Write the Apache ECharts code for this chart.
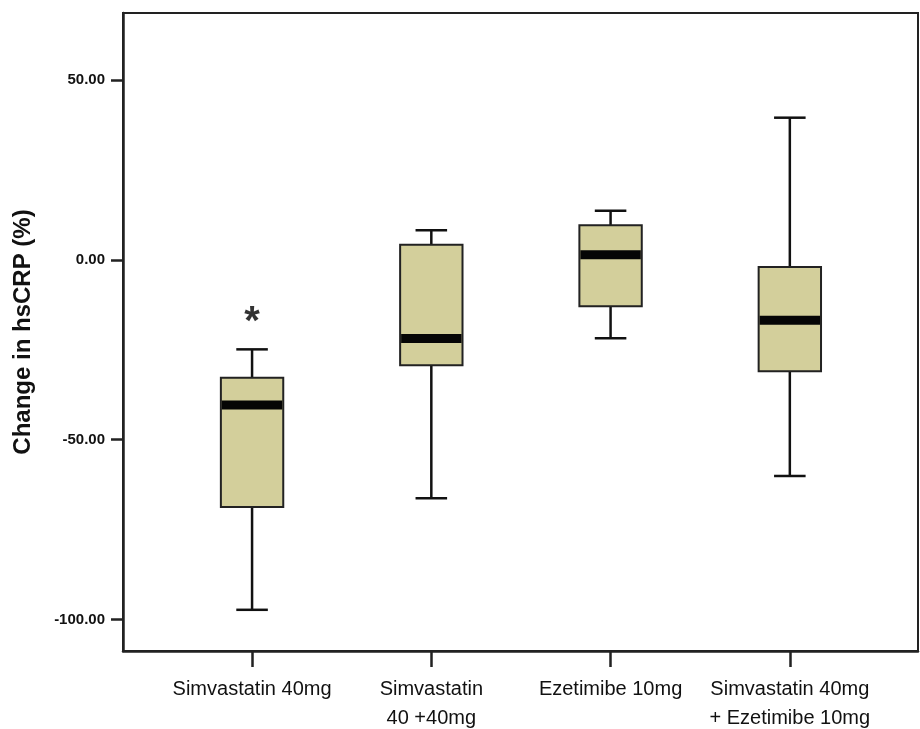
<!DOCTYPE html>
<html>
<head>
<meta charset="utf-8">
<script src="https://cdn.jsdelivr.net/npm/echarts@6/dist/echarts.min.js"></script>
<style>
  html, body { margin: 0; padding: 0; background: #fff; }
  #chart { width: 920px; height: 729px; }
</style>
</head>
<body>
<div id="chart"></div>
<script>
// groups along the x axis
const groups = ['Simvastatin 40mg', 'Simvastatin\n40 +40mg', 'Ezetimibe 10mg', 'Simvastatin 40mg\n+ Ezetimibe 10mg'];
const groupPos = [1, 2, 3, 4];

// box stats: [min, q1, median, q3, max]
const mins    = [-97.3, -66.3, -21.8, -60.1];
const q1s     = [-68.7, -29.3, -12.9, -31.0];
const medians = [-40.4, -21.9, 1.4, -16.8];
const q3s     = [-32.8, 4.2, 9.6, -2.0];
const maxs    = [-24.9, 8.2, 13.6, 39.5];

// significance marker (group position, value)
const starMarks = [[1, -15.4]];

const yTicks = [-100, -50, 0, 50];

const boxData = groupPos.map((x, i) => [x, mins[i], q1s[i], medians[i], q3s[i], maxs[i]]);

const chart = echarts.init(document.getElementById('chart'));

function renderBox(params, api) {
    const x = api.value(0);
    const unit = api.size([1, 0])[0];
    const halfBox = unit * 0.174;
    const halfCap = unit * 0.088;

    const pMin = api.coord([x, api.value(1)]);
    const pQ1 = api.coord([x, api.value(2)]);
    const pMed = api.coord([x, api.value(3)]);
    const pQ3 = api.coord([x, api.value(4)]);
    const pMax = api.coord([x, api.value(5)]);
    const cx = pMed[0];

    const lineStyle = { stroke: '#111', lineWidth: 2.5 };
    return {
        type: 'group',
        children: [
            { type: 'line', shape: { x1: cx, y1: pQ3[1], x2: cx, y2: pMax[1] }, style: lineStyle },
            { type: 'line', shape: { x1: cx, y1: pQ1[1], x2: cx, y2: pMin[1] }, style: lineStyle },
            { type: 'line', shape: { x1: cx - halfCap, y1: pMax[1], x2: cx + halfCap, y2: pMax[1] }, style: lineStyle },
            { type: 'line', shape: { x1: cx - halfCap, y1: pMin[1], x2: cx + halfCap, y2: pMin[1] }, style: lineStyle },
            {
                type: 'rect',
                shape: { x: cx - halfBox, y: pQ3[1], width: halfBox * 2, height: pQ1[1] - pQ3[1] },
                style: { fill: '#d3cf9b', stroke: '#222', lineWidth: 2 }
            },
            {
                type: 'rect',
                shape: { x: cx - halfBox + 1, y: pMed[1] - 4.5, width: halfBox * 2 - 2, height: 9 },
                style: { fill: '#050505' }
            }
        ]
    };
}

chart.setOption({
    animation: false,
    backgroundColor: '#fff',
    grid: {
        left: 123, top: 13, right: 2, bottom: 78,
        outerBoundsMode: 'none',
        containLabel: false,
        show: true, borderColor: '#222', borderWidth: 2
    },
    xAxis: {
        type: 'value',
        min: 0.28,
        max: 4.715,
        axisLine: { show: true, onZero: false, lineStyle: { color: '#222', width: 2.5 } },
        axisTick: { show: true, customValues: groupPos, length: 16, lineStyle: { color: '#222', width: 2.5 } },
        axisLabel: {
            customValues: groupPos,
            formatter: v => groups[Math.round(v) - 1] || '',
            color: '#111',
            fontFamily: 'Liberation Sans',
            fontSize: 20,
            lineHeight: 29,
            margin: 24,
            verticalAlign: 'top'
        },
        splitLine: { show: false }
    },
    yAxis: {
        type: 'value',
        min: -108.75,
        max: 68.6,
        name: 'Change in hsCRP (%)',
        nameLocation: 'middle',
        nameGap: 88,
        nameTextStyle: { color: '#111', fontFamily: 'Liberation Sans', fontWeight: 'bold', fontSize: 24 },
        axisLine: { show: true, onZero: false, lineStyle: { color: '#222', width: 2.5 } },
        axisTick: { show: true, customValues: yTicks, length: 12, lineStyle: { color: '#222', width: 2.5 } },
        axisLabel: {
            customValues: yTicks,
            formatter: v => v.toFixed(2),
            color: '#111',
            fontFamily: 'Liberation Sans',
            fontWeight: 'bold',
            fontSize: 15,
            margin: 18
        },
        splitLine: { show: false }
    },
    series: [
        {
            type: 'custom',
            renderItem: renderBox,
            encode: { x: 0, y: [1, 2, 3, 4, 5] },
            data: boxData
        },
        {
            type: 'scatter',
            symbolSize: 0,
            data: starMarks,
            label: {
                show: true,
                position: 'inside',
                formatter: '*',
                color: '#000',
                fontFamily: 'Liberation Sans',
                fontWeight: 'bold',
                fontSize: 40,
                offset: [0, 8]
            }
        }
    ]
});
</script>
</body>
</html>
